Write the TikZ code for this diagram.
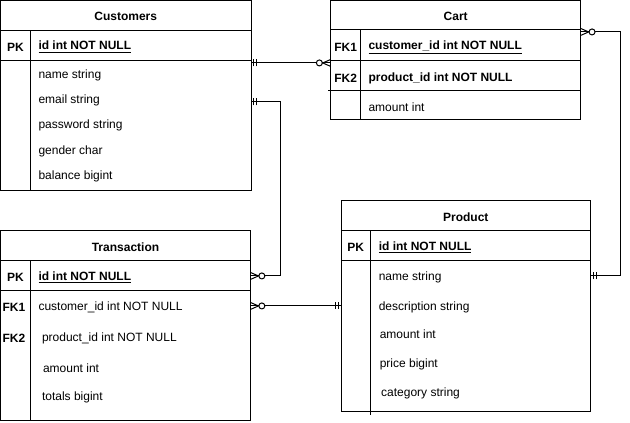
\documentclass[tikz,border=0pt]{standalone}
\usepackage{fontspec}
\setmainfont{Liberation Sans}
\usetikzlibrary{decorations.markings}

\begin{document}
\begin{tikzpicture}[x=0.75pt,y=-0.75pt,line width=0.75pt,
    every node/.style={font=\fontsize{9}{11}\selectfont, inner sep=0pt, yshift=-0.7pt},
    fld/.style={anchor=west},
    key/.style={font=\fontsize{9}{11}\selectfont\bfseries},
    rel/.style={postaction={decorate}, decoration={markings,
      mark=at position 1.9pt with {\draw (0,-2.6pt) -- (0,2.6pt);},
      mark=at position 4.3pt with {\draw (0,-2.6pt) -- (0,2.6pt);},
      mark=at position -8.5pt with {\draw[fill=white] (0,0) circle (2.25pt);},
      mark=at position -6pt with {\draw (6pt,2.6pt) -- (0,0) -- (6pt,-2.6pt);}}}]

  \useasboundingbox (0,0) rectangle (630,422);

  % Customers table
  \draw (0.5,0.5) rectangle (251,190);
  \draw (0.5,30) -- (251,30) (0.5,60) -- (251,60) (30.7,30) -- (30.7,190);
  \node[key] (cust-title) at (125.7,15.5) {Customers};
  \node[key] (cust-pk) at (15.5,46) {PK};
  \node[key,fld] (cust-id) at (38,46) {\underline{id int NOT NULL}};
  \node[fld] (cust-name) at (38,74) {name string};
  \node[fld] (cust-email) at (38,99.5) {email string};
  \node[fld] (cust-pass) at (38,124) {password string};
  \node[fld] (cust-gender) at (38,150) {gender char};
  \node[fld] (cust-bal) at (38,175) {balance bigint};

  % Cart table
  \draw (330.7,0.5) rectangle (580.7,119.5);
  \draw (330.7,29.5) -- (580.7,29.5) (330.7,60.3) -- (580.7,60.3)
        (328,90.3) -- (580.7,90.3) (360.7,29.5) -- (360.7,119.5);
  \node[key] (cart-title) at (455.7,15) {Cart};
  \node[key] (cart-fk1) at (345.7,46.5) {FK1};
  \node[key,fld] (cart-cust) at (368,46.5) {\underline{customer\_id int NOT NULL}};
  \node[key] (cart-fk2) at (345.7,77.5) {FK2};
  \node[key,fld] (cart-prod) at (368,77.5) {product\_id int NOT NULL};
  \node[fld] (cart-amount) at (368,106.5) {amount int};

  % Transaction table
  \draw (0.5,230.3) rectangle (250.5,420);
  \draw (0.5,260.3) -- (250.5,260.3) (0.5,290) -- (250.5,290) (30.7,260.3) -- (30.7,420);
  \node[key] (trans-title) at (125.5,246.5) {Transaction};
  \node[key] (trans-pk) at (15.5,276.5) {PK};
  \node[key,fld] (trans-id) at (38,276.5) {\underline{id int NOT NULL}};
  \node[key] (trans-fk1) at (14,306.5) {FK1};
  \node[fld] (trans-cust) at (38,306.5) {customer\_id int NOT NULL};
  \node[key] (trans-fk2) at (14,337.5) {FK2};
  \node[fld] (trans-prod) at (41.5,337.5) {product\_id int NOT NULL};
  \node[fld] (trans-amount) at (42.5,367) {amount int};
  \node[fld] (trans-total) at (41.5,396.5) {totals bigint};

  % Product table
  \draw (341,200.3) rectangle (590.7,411.7);
  \draw (341,230.3) -- (590.7,230.3) (341,260) -- (590.7,260) (370.7,230.3) -- (370.7,415);
  \node[key] (prod-title) at (465.8,216) {Product};
  \node[key] (prod-pk) at (355.8,246.5) {PK};
  \node[key,fld] (prod-id) at (378.3,246.5) {\underline{id int NOT NULL}};
  \node[fld] (prod-name) at (378.3,276) {name string};
  \node[fld] (prod-desc) at (378.3,306) {description string};
  \node[fld] (prod-amount) at (379.3,333.3) {amount int};
  \node[fld] (prod-price) at (379.3,363.3) {price bigint};
  \node[fld] (prod-cat) at (380.7,392.7) {category string};

  % Relationship ends
  \coordinate (cust-r1) at (251,62);
  \coordinate (cust-r2) at (251,101);
  \coordinate (cart-l) at (330.7,62);
  \coordinate (cart-r) at (580.7,31);
  \coordinate (trans-r1) at (250.5,275);
  \coordinate (trans-r2) at (250.5,305);
  \coordinate (prod-l) at (341,305);
  \coordinate (prod-r) at (590.7,275);
  \coordinate (bend-a) at (280.5,275);
  \coordinate (bend-b) at (620.5,31);

  % Relationships (one --- zero or many)
  \draw[rel] (cust-r1) -- (cart-l);
  \draw[rel] (cust-r2) -| (bend-a) -- (trans-r1);
  \draw[rel] (prod-l) -- (trans-r2);
  \draw[rel] (prod-r) -| (bend-b) -- (cart-r);

\end{tikzpicture}
\end{document}
